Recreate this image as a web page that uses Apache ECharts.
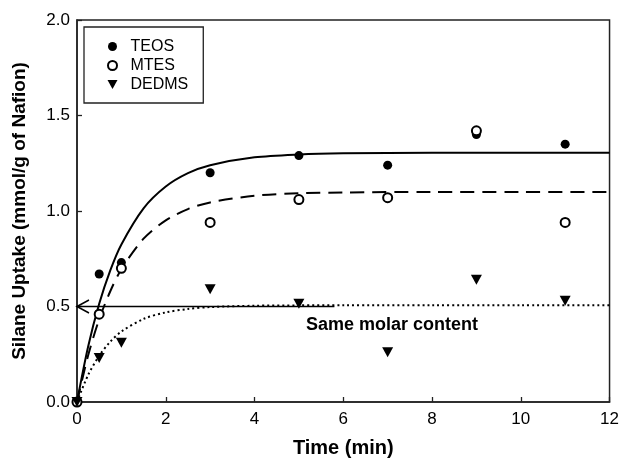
<!DOCTYPE html>
<html>
<head>
<meta charset="utf-8">
<script src="https://cdn.jsdelivr.net/npm/echarts@6/dist/echarts.min.js"></script>
<style>html,body{margin:0;padding:0;background:#fff;}#c{width:622px;height:463px;}</style>
</head>
<body>
<div id="c"></div>
<script>
// Measured data points
var times = [0, 0.5, 1, 3, 5, 7, 9, 11];
var teos  = [0, 0.67, 0.73, 1.20, 1.29, 1.24, 1.40, 1.35];
var mtes  = [0, 0.46, 0.70, 0.94, 1.06, 1.07, 1.42, 0.94];
var dedms = [0, 0.23, 0.31, 0.59, 0.515, 0.26, 0.64, 0.53];

// Fitted curves
var curveT     = [0, 0.25, 0.5, 0.75, 1, 1.5, 2, 2.5, 3, 4, 5, 6, 8, 10, 12];
var teosFit    = [0, 0.289, 0.514, 0.689, 0.825, 1.014, 1.128, 1.198, 1.240, 1.281, 1.296, 1.302, 1.305, 1.305, 1.305];
var mtesFit    = [0, 0.243, 0.433, 0.580, 0.695, 0.855, 0.951, 1.010, 1.045, 1.080, 1.093, 1.097, 1.100, 1.100, 1.100];
var dedmsFit   = [0, 0.141, 0.242, 0.316, 0.369, 0.435, 0.469, 0.487, 0.497, 0.504, 0.506, 0.507, 0.507, 0.507, 0.507];

// Reference arrow line ("Same molar content")
var arrowX = [0, 5.8];
var arrowY = [0.5, 0.5];
var arrowText = 'Same molar content';

var xTicks = [0, 2, 4, 6, 8, 10, 12];
var yTicks = [0.0, 0.5, 1.0, 1.5, 2.0];
var seriesNames = ['TEOS', 'MTES', 'DEDMS'];

function pairs(xs, ys) { return xs.map(function (x, i) { return [x, ys[i]]; }); }

var FONT = '"Liberation Sans", Arial, Helvetica, sans-serif';
var INK = '#000';

var arrowData = pairs(arrowX, arrowY).map(function (p, i) {
  if (i === 0) {
    return {
      value: p,
      symbol: 'path://M12,0 L0,6 L12,12',
      symbolSize: [12, 13],
      symbolOffset: [6, 0],
      itemStyle: { color: 'rgba(0,0,0,0)', borderColor: INK, borderWidth: 1.6 }
    };
  }
  return { value: p, symbol: 'none' };
});

var chart = echarts.init(document.getElementById('c'), null, { renderer: 'canvas' });
chart.setOption({
  animation: false,
  backgroundColor: '#fff',
  grid: { left: 77, right: 12, top: 20, bottom: 60, show: true, borderColor: '#222', borderWidth: 1.5, backgroundColor: 'transparent' },
  legend: {
    data: [
      { name: seriesNames[0], icon: 'circle' },
      { name: seriesNames[1], icon: 'emptyCircle' },
      { name: seriesNames[2], icon: 'path://M0,0 L10,0 L5,9 Z' }
    ],
    orient: 'vertical',
    left: 84, top: 27,
    padding: [10, 15, 9, 23],
    itemWidth: 26, itemHeight: 9, itemGap: 0,
    borderColor: '#222', borderWidth: 1.3,
    textStyle: { fontFamily: FONT, fontSize: 16, color: INK, lineHeight: 19 },
    selectedMode: false
  },
  xAxis: {
    type: 'value', min: xTicks[0], max: xTicks[xTicks.length - 1], interval: 2,
    name: 'Time (min)', nameLocation: 'middle', nameGap: 36,
    nameTextStyle: { fontFamily: FONT, fontSize: 20, fontWeight: 'bold', color: INK },
    axisLine: { show: true, onZero: false, lineStyle: { color: '#222', width: 1.5 } },
    axisTick: { show: true, inside: true, length: 5, lineStyle: { color: '#222', width: 1.3 } },
    axisLabel: { fontFamily: FONT, fontSize: 17, color: INK, margin: 9 },
    splitLine: { show: false }
  },
  yAxis: {
    type: 'value', min: yTicks[0], max: yTicks[yTicks.length - 1], interval: 0.5,
    name: 'Silane Uptake (mmol/g of Nafion)', nameLocation: 'middle', nameGap: 48,
    nameTextStyle: { fontFamily: FONT, fontSize: 19, fontWeight: 'bold', color: INK },
    axisLine: { show: true, onZero: false, lineStyle: { color: '#222', width: 1.5 } },
    axisTick: { show: true, inside: true, length: 5, lineStyle: { color: '#222', width: 1.3 } },
    axisLabel: { fontFamily: FONT, fontSize: 17, color: INK, margin: 7, formatter: function (v) { return v.toFixed(1); } },
    splitLine: { show: false }
  },
  series: [
    { type: 'line', data: pairs(curveT, teosFit), smooth: 0.3, showSymbol: false, symbol: 'none',
      lineStyle: { color: INK, width: 2, type: 'solid' }, z: 2, silent: true },
    { type: 'line', data: pairs(curveT, mtesFit), smooth: 0.3, showSymbol: false, symbol: 'none',
      lineStyle: { color: INK, width: 2, type: [14, 8] }, z: 2, silent: true },
    { type: 'line', data: pairs(curveT, dedmsFit), smooth: 0.3, showSymbol: false, symbol: 'none',
      lineStyle: { color: INK, width: 2, type: [2, 3] }, z: 2, silent: true },
    { type: 'line', data: arrowData, symbol: 'none', showSymbol: true,
      lineStyle: { color: INK, width: 1.6 }, z: 3, silent: true },
    { name: seriesNames[0], type: 'scatter', data: pairs(times, teos), symbol: 'circle', symbolSize: 9,
      itemStyle: { color: INK, opacity: 1 }, z: 5 },
    { name: seriesNames[1], type: 'scatter', data: pairs(times, mtes), symbol: 'emptyCircle', symbolSize: 9,
      itemStyle: { color: INK, borderColor: INK, borderWidth: 1.3, opacity: 1 }, z: 5 },
    { name: seriesNames[2], type: 'scatter', data: pairs(times, dedms), symbol: 'triangle', symbolRotate: 180, symbolSize: [11, 10],
      itemStyle: { color: INK, opacity: 1 }, z: 5 }
  ],
  graphic: [
    { type: 'text', left: 306, top: 316, z: 10,
      style: { text: arrowText, font: 'bold 18px ' + FONT, fill: INK } }
  ]
});
</script>
</body>
</html>
